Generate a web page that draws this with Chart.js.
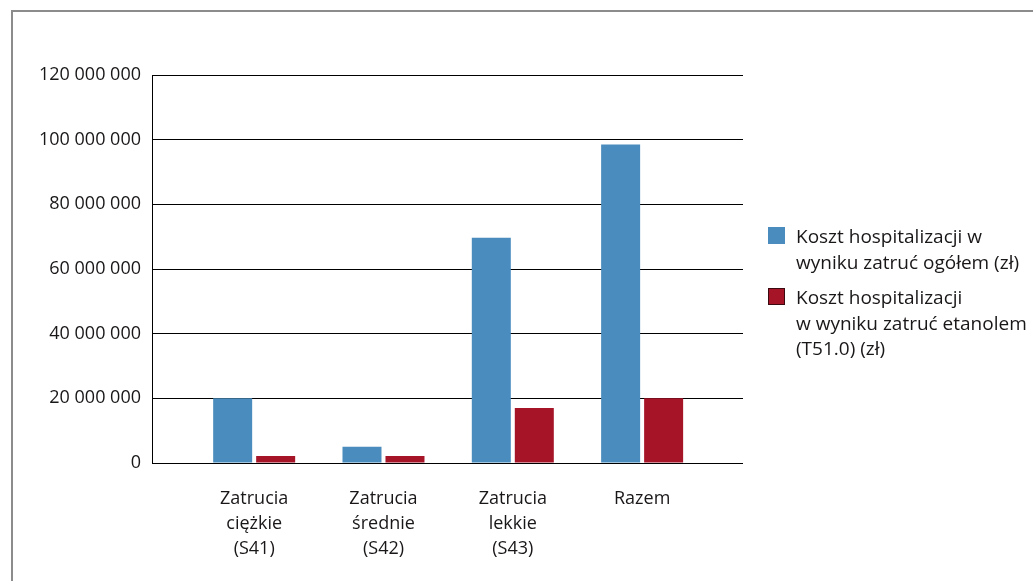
<!DOCTYPE html>
<html>
<head>
<meta charset="utf-8">
<script src="https://cdn.jsdelivr.net/npm/chart.js@4.4.1/dist/chart.umd.min.js"></script>
<style>
  html, body { margin: 0; padding: 0; background: #ffffff; }
  #wrap { position: relative; width: 1033px; height: 581px; overflow: hidden; }
  #frame {
    position: absolute; left: 11px; top: 10px; right: -4px; bottom: -4px;
    border-top: 2px solid #8c8c8c; border-left: 2px solid #8c8c8c;
  }
  #c { position: absolute; left: 0; top: 0; }
</style>
</head>
<body>
<div id="wrap">
  <div id="frame"></div>
  <canvas id="c" width="1033" height="581"></canvas>
</div>
<script>
// Hospitalisation costs by poisoning severity (PLN)
const categories = [
  ["Zatrucia", "ciężkie", "(S41)"],
  ["Zatrucia", "średnie", "(S42)"],
  ["Zatrucia", "lekkie", "(S43)"],
  ["Razem"]
];
const seriesLabels = [
  ["Koszt hospitalizacji w", "wyniku zatruć ogółem (zł)"],
  ["Koszt hospitalizacji", "w wyniku zatruć etanolem", "(T51.0) (zł)"]
];
const totalCost   = [20000000, 5000000, 69700000, 98500000];
const ethanolCost = [2200000, 2200000, 17000000, 20000000];
const yTickValues = [0, 20000000, 40000000, 60000000, 80000000, 100000000, 120000000];

const BLUE = '#4a8cbd';
const RED = '#a61428';
const TEXT = '#1a1718';
const FONT = '"Open Sans", "Noto Sans", sans-serif';

function groupThousands(v) {
  return String(Math.round(v)).replace(/\B(?=(\d{3})+(?!\d))/g, ' ');
}

// Legend drawn at the right, with multi-line entries
const sideLegend = {
  id: 'sideLegend',
  afterDraw(chart, args, opts) {
    const ctx = chart.ctx;
    ctx.save();
    ctx.font = opts.fontSize + 'px ' + FONT;
    ctx.textBaseline = 'alphabetic';
    ctx.textAlign = 'left';
    let baseline = opts.firstBaseline;
    chart.data.datasets.forEach((ds) => {
      const lines = Array.isArray(ds.label) ? ds.label : [ds.label];
      const top = baseline - opts.boxOffset;
      ctx.fillStyle = ds.backgroundColor;
      ctx.fillRect(opts.boxX, top, opts.boxSize, opts.boxSize);
      if (ds.legendStroke) {
        ctx.strokeStyle = ds.legendStroke;
        ctx.lineWidth = 1;
        ctx.strokeRect(opts.boxX + 0.5, top + 0.5, opts.boxSize - 1, opts.boxSize - 1);
      }
      ctx.fillStyle = TEXT;
      lines.forEach((ln, i) => {
        ctx.fillText(ln, opts.textX, baseline + i * opts.lineHeight);
      });
      baseline += lines.length * opts.lineHeight + opts.itemGap;
    });
    ctx.restore();
  }
};

new Chart(document.getElementById('c'), {
  type: 'bar',
  data: {
    datasets: [
      {
        label: seriesLabels[0],
        data: totalCost.map((v, i) => ({ x: i, y: v })),
        backgroundColor: BLUE
      },
      {
        label: seriesLabels[1],
        data: ethanolCost.map((v, i) => ({ x: i, y: v })),
        backgroundColor: RED,
        legendStroke: '#3a0a10'
      }
    ]
  },
  options: {
    responsive: false,
    animation: false,
    devicePixelRatio: 1,
    categoryPercentage: 0.665,
    barPercentage: 0.907,
    layout: { padding: { left: 0, top: 75, right: 290, bottom: 0 } },
    plugins: {
      legend: { display: false },
      tooltip: { enabled: false },
      sideLegend: {
        fontSize: 19,
        boxX: 768,
        boxSize: 17,
        boxOffset: 16,
        textX: 796,
        firstBaseline: 243,
        lineHeight: 25.5,
        itemGap: 10
      }
    },
    scales: {
      x: {
        type: 'linear',
        min: -0.79,
        max: 3.78,
        offset: false,
        grid: { display: false, drawTicks: false },
        border: { display: false },
        afterBuildTicks(scale) {
          scale.ticks = categories.map((c, i) => ({ value: i }));
        },
        afterFit(scale) { scale.height = 118; },
        ticks: {
          autoSkip: false,
          maxRotation: 0,
          padding: 23,
          color: TEXT,
          font: { family: FONT, size: 18, lineHeight: 25 / 18 },
          callback(value) {
            return Number.isInteger(value) ? categories[value] : '';
          }
        }
      },
      y: {
        min: 0,
        max: 120000000,
        afterBuildTicks(scale) {
          scale.ticks = yTickValues.map(v => ({ value: v }));
        },
        afterFit(scale) { scale.width = 152; },
        grid: { color: '#000000', lineWidth: 1, drawTicks: false },
        border: { display: true, color: '#000000', width: 1 },
        ticks: {
          padding: 11,
          color: TEXT,
          font: { family: FONT, size: 18 },
          callback(value) { return groupThousands(value); }
        }
      }
    }
  },
  plugins: [sideLegend]
});
</script>
</body>
</html>
